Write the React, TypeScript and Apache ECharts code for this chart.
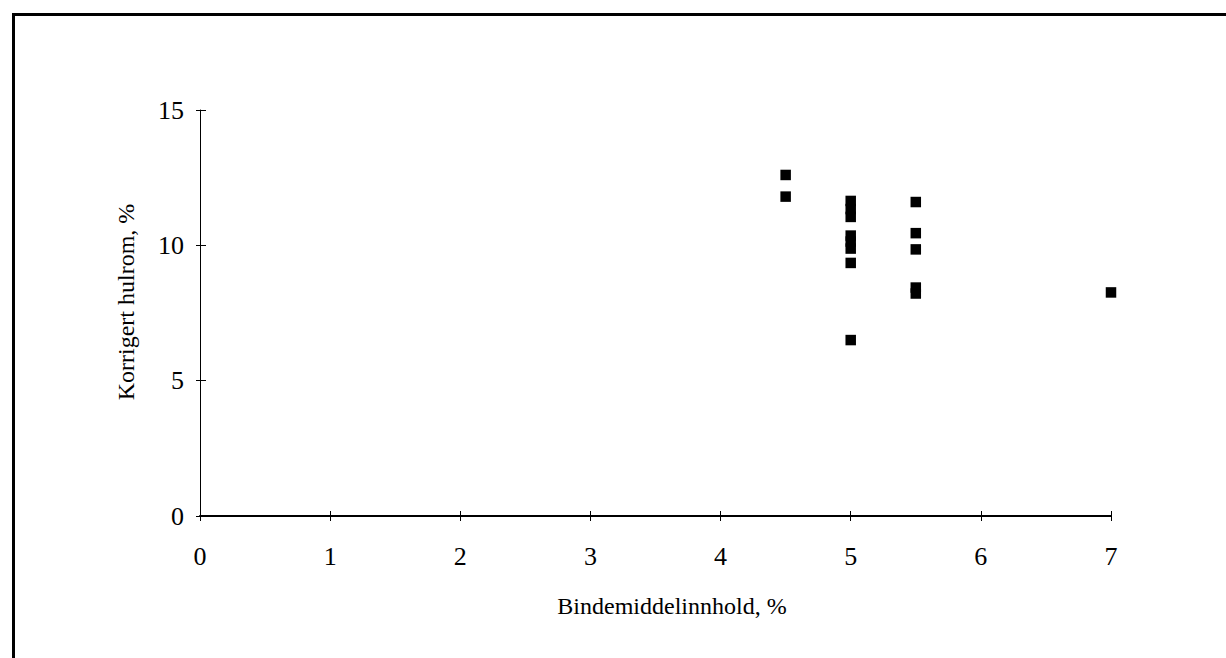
import React, { useEffect, useRef } from "react";
import * as echarts from "echarts";

const xValues = [4.5, 4.5, 5, 5, 5, 5, 5, 5, 5, 5, 5.5, 5.5, 5.5, 5.5, 5.5, 7];
const yValues = [12.6, 11.8, 11.64, 11.34, 11.05, 10.36, 10.14, 9.88, 9.35, 6.5, 11.6, 10.45, 9.85, 8.44, 8.22, 8.26];
const xTicks = [0, 1, 2, 3, 4, 5, 6, 7];
const yTicks = [0, 5, 10, 15];
const xTitle = "Bindemiddelinnhold, %";
const yTitle = "Korrigert hulrom, %";

const FONT = "Liberation Serif";

export default function App() {
  const ref = useRef<HTMLDivElement>(null);
  useEffect(() => {
    if (!ref.current) return;
    const chart = echarts.init(ref.current, null, { renderer: "svg" });
    const data = xValues.map((x, i) => [x, yValues[i]]);
    const common = { min: xTicks[0], max: xTicks[xTicks.length - 1], interval: 1 };
    const ycommon = { min: yTicks[0], max: yTicks[yTicks.length - 1], interval: 5 };
    chart.setOption({
      animation: false,
      backgroundColor: "#ffffff",
      grid: { left: 200, right: 115, top: 110, bottom: 142, containLabel: false },
      xAxis: [
        {
          type: "value",
          ...common,
          position: "bottom",
          axisLine: { show: true, onZero: false, lineStyle: { color: "#000", width: 2 } },
          axisTick: { show: true, inside: false, length: 5, lineStyle: { color: "#000", width: 1 } },
          axisLabel: { show: true, color: "#000", fontFamily: FONT, fontSize: 26, margin: 27 },
          splitLine: { show: false },
        },
        {
          type: "value",
          ...common,
          position: "bottom",
          axisLine: { show: false },
          axisTick: { show: true, inside: true, length: 5, lineStyle: { color: "#000", width: 1 } },
          axisLabel: { show: false },
          splitLine: { show: false },
        },
      ],
      yAxis: [
        {
          type: "value",
          ...ycommon,
          position: "left",
          axisLine: { show: true, onZero: false, lineStyle: { color: "#000", width: 1 } },
          axisTick: { show: true, inside: false, length: 4, lineStyle: { color: "#000", width: 1 } },
          axisLabel: { show: true, color: "#000", fontFamily: FONT, fontSize: 26, margin: 16 },
          splitLine: { show: false },
        },
        {
          type: "value",
          ...ycommon,
          position: "left",
          axisLine: { show: false },
          axisTick: { show: true, inside: true, length: 6, lineStyle: { color: "#000", width: 1 } },
          axisLabel: { show: false },
          splitLine: { show: false },
        },
      ],
      series: [
        {
          type: "scatter",
          xAxisIndex: 0,
          yAxisIndex: 0,
          data,
          symbol: "rect",
          symbolSize: 10.5,
          itemStyle: { color: "#000", opacity: 1 },
        },
      ],
      graphic: [
        {
          type: "polyline",
          shape: { points: [[13.5, 660], [13.5, 14.5], [1230, 14.5]] },
          style: { stroke: "#000", lineWidth: 3, fill: null },
        },
        {
          type: "text",
          x: 672,
          y: 606,
          style: {
            text: xTitle,
            fontFamily: FONT,
            fontSize: 24,
            fill: "#000",
            align: "center",
            verticalAlign: "middle",
          },
        },
        {
          type: "text",
          x: 126,
          y: 302,
          rotation: Math.PI / 2,
          style: {
            text: yTitle,
            fontFamily: FONT,
            fontSize: 24,
            fill: "#000",
            align: "center",
            verticalAlign: "middle",
          },
        },
      ],
    });
    return () => chart.dispose();
  }, []);
  return (
    <div
      ref={ref}
      style={{ position: "fixed", left: 0, top: 0, width: 1226, height: 658, background: "#fff" }}
    />
  );
}
